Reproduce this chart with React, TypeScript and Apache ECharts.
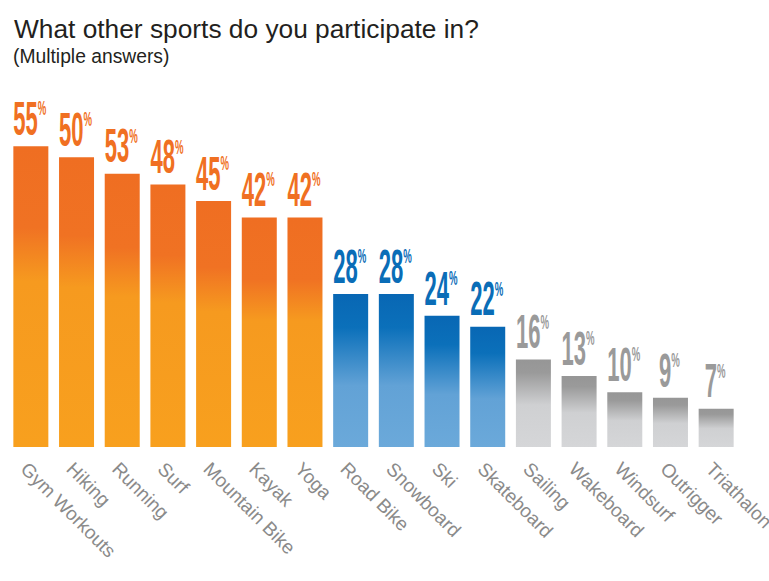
import React, { useEffect, useRef } from 'react';
import * as echarts from 'echarts';

const titleText = 'What other sports do you participate in?';
const subtitleText = '(Multiple answers)';

const categories = [
  'Gym Workouts', 'Hiking', 'Running', 'Surf', 'Mountain Bike', 'Kayak', 'Yoga',
  'Road Bike', 'Snowboard', 'Ski', 'Skateboard',
  'Sailing', 'Wakeboard', 'Windsurf', 'Outrigger', 'Triathalon',
];
// bar heights as drawn
const barValues = [55, 53, 50, 48, 45, 42, 42, 28, 28, 24, 22, 16, 13, 10, 9, 7];
// value labels as printed above the bars
const labelTexts = ['55', '50', '53', '48', '45', '42', '42', '28', '28', '24', '22', '16', '13', '10', '9', '7'];
const groups = [
  'orange', 'orange', 'orange', 'orange', 'orange', 'orange', 'orange',
  'blue', 'blue', 'blue', 'blue',
  'gray', 'gray', 'gray', 'gray', 'gray',
];

const palette: Record<string, { stops: [number, string][]; label: string }> = {
  orange: {
    stops: [[0, '#EF6E22'], [0.27, '#F07223'], [0.45, '#F69A1F'], [1, '#F8A01E']],
    label: '#F07022',
  },
  blue: {
    stops: [[0, '#0867B4'], [0.22, '#0B70BA'], [0.6, '#62A2D6'], [1, '#6BA9DA']],
    label: '#0A6DB7',
  },
  gray: {
    stops: [[0, '#969696'], [0.15, '#9A9A9A'], [0.52, '#CFD0D2'], [1, '#D5D6D8']],
    label: '#9A9A9A',
  },
};

const FONT = '"Liberation Sans", Arial, sans-serif';

export default function App() {
  const ref = useRef<HTMLDivElement>(null);
  useEffect(() => {
    if (!ref.current) return;
    const chart = echarts.init(ref.current, null, { renderer: 'svg' });
    const barData = barValues.map((v, i) => {
      const p = palette[groups[i]];
      return {
        value: v,
        itemStyle: {
          color: new echarts.graphic.LinearGradient(
            0, 0, 0, 1,
            p.stops.map(([offset, color]) => ({ offset, color }))
          ),
        },
      };
    });
    chart.setOption({
      animation: false,
      backgroundColor: '#ffffff',
      title: [
        {
          text: titleText,
          left: 9,
          top: 11,
          textStyle: { fontFamily: FONT, fontSize: 26.3, fontWeight: 'normal', color: '#231f20' },
        },
        {
          text: subtitleText,
          left: 8,
          top: 42,
          textStyle: { fontFamily: FONT, fontSize: 19.3, fontWeight: 'normal', color: '#231f20' },
        },
      ],
      grid: {
        left: 8,
        right: 30,
        top: 119,
        bottom: 134,
        containLabel: false,
        outerBoundsMode: 'none',
      },
      xAxis: {
        type: 'category',
        data: categories,
        axisLine: { show: false },
        axisTick: { show: false },
        axisLabel: {
          interval: 0,
          rotate: -45,
          align: 'left',
          verticalAlign: 'top',
          margin: 12,
          color: '#8a8a8a',
          fontFamily: FONT,
          fontSize: 19,
          hideOverlap: false,
        },
      },
      yAxis: {
        type: 'value',
        min: 0,
        max: 60,
        show: false,
        splitLine: { show: false },
      },
      series: [
        {
          type: 'bar',
          data: barData,
          barWidth: 35,
        },
        {
          type: 'custom',
          data: barValues.map((v, i) => [i, v]),
          encode: { x: 0, y: 1 },
          clip: false,
          z: 5,
          renderItem: (params: any, api: any) => {
            const idx = params.dataIndex;
            const pt = api.coord([api.value(0), api.value(1)]);
            const cx = pt[0];
            const top = pt[1];
            const txt = labelTexts[idx];
            const color = palette[groups[idx]].label;
            const F = 49;
            const sx = 0.45;
            const numW = txt.length * 0.556 * F * sx;
            const pF = 20;
            const psx = 0.48;
            const pW = 0.889 * pF * psx;
            const x0 = cx - (numW + pW) / 2 - 1;
            const cy = top - 28;
            return {
              type: 'group',
              children: [
                {
                  type: 'text',
                  x: x0,
                  y: cy,
                  scaleX: sx,
                  style: {
                    text: txt,
                    fill: color,
                    fontSize: F,
                    fontFamily: FONT,
                    fontWeight: 'bold',
                    align: 'left',
                    verticalAlign: 'middle',
                  },
                },
                {
                  type: 'text',
                  x: x0 + numW,
                  y: cy - 10,
                  scaleX: psx,
                  style: {
                    text: '%',
                    fill: color,
                    fontSize: pF,
                    fontFamily: FONT,
                    fontWeight: 'bold',
                    align: 'left',
                    verticalAlign: 'middle',
                  },
                },
              ],
            };
          },
        },
      ],
    });
    return () => chart.dispose();
  }, []);
  return (
    <div
      ref={ref}
      style={{ position: 'fixed', left: 0, top: 0, width: 769, height: 581, background: '#fff' }}
    />
  );
}
